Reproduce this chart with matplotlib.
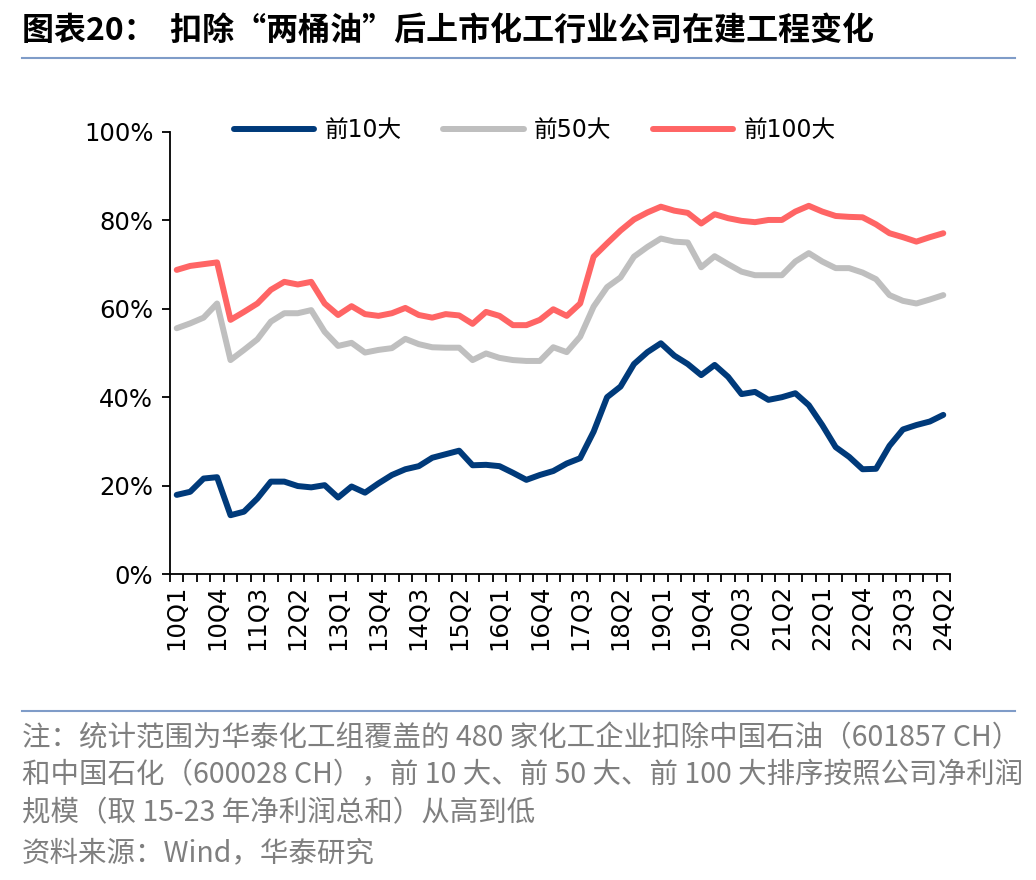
import matplotlib
matplotlib.use("Agg")
import matplotlib.pyplot as plt
from matplotlib.lines import Line2D
from matplotlib.ticker import FuncFormatter, FixedLocator
import numpy as np

# ---- data ----
quarters = [f"{y:02d}Q{q}" for y in range(10, 25) for q in range(1, 5)][:58]

top10 = [17.9, 18.6, 21.6, 21.9, 13.3, 14.1, 17.1, 20.9, 20.9, 19.9, 19.6, 20.1,
         17.3, 19.8, 18.4, 20.5, 22.4, 23.7, 24.4, 26.3, 27.1, 27.9, 24.6, 24.7,
         24.4, 22.9, 21.3, 22.4, 23.3, 25.0, 26.2, 32.2, 40.0, 42.4, 47.5, 50.2,
         52.2, 49.4, 47.5, 45.0, 47.3, 44.6, 40.7, 41.2, 39.4, 40.0, 40.9, 38.2,
         33.7, 28.7, 26.5, 23.7, 23.8, 29.0, 32.7, 33.7, 34.5, 36.0]

top50 = [55.6, 56.7, 58.0, 61.2, 48.4, 50.7, 53.1, 57.1, 59.0, 59.0, 59.7, 54.8,
         51.6, 52.3, 50.1, 50.7, 51.1, 53.2, 52.0, 51.3, 51.2, 51.2, 48.4, 49.9,
         48.9, 48.4, 48.2, 48.2, 51.3, 50.2, 53.7, 60.5, 64.9, 67.1, 71.8, 74.0,
         75.9, 75.2, 75.0, 69.4, 71.9, 70.1, 68.4, 67.6, 67.6, 67.6, 70.7, 72.6,
         70.7, 69.2, 69.2, 68.2, 66.7, 63.1, 61.8, 61.2, 62.1, 63.1]

top100 = [68.8, 69.7, 70.1, 70.5, 57.5, 59.3, 61.2, 64.3, 66.1, 65.5, 66.1, 61.2,
          58.6, 60.6, 58.8, 58.4, 59.0, 60.2, 58.6, 58.0, 58.8, 58.5, 56.6, 59.3,
          58.4, 56.3, 56.3, 57.5, 59.9, 58.4, 61.2, 71.8, 74.8, 77.7, 80.2, 81.8,
          83.1, 82.2, 81.7, 79.3, 81.4, 80.5, 79.9, 79.6, 80.1, 80.1, 82.0, 83.3,
          82.0, 81.0, 80.8, 80.7, 79.1, 77.1, 76.2, 75.2, 76.2, 77.1]

series_names = ["前10大", "前50大", "前100大"]
series_colors = ["#003A7A", "#BFBFBF", "#FF6565"]

title = "图表20：  扣除“两桶油”后上市化工行业公司在建工程变化"
notes = [
    "注：统计范围为华泰化工组覆盖的 480 家化工企业扣除中国石油（601857 CH）",
    "和中国石化（600028 CH），前 10 大、前 50 大、前 100 大排序按照公司净利润",
    "规模（取 15-23 年净利润总和）从高到低",
    "资料来源：Wind，华泰研究",
]

W, H = 1036, 880
fig = plt.figure(figsize=(W / 100, H / 100), dpi=100)
fig.patch.set_facecolor("white")

latin = ["DejaVu Sans", "Noto Sans CJK SC"]
cjk = ["Noto Sans CJK SC", "DejaVu Sans"]

ax = fig.add_axes([170 / W, 1 - 574 / H, (950 - 170) / W, (574 - 132) / H])
x = np.arange(len(quarters))
for vals, name, col in zip([top10, top50, top100], series_names, series_colors):
    ax.plot(x, vals, color=col, lw=4.3, label=name, solid_capstyle="round",
            solid_joinstyle="round")

ax.set_xlim(-0.5, len(quarters) - 0.5)
ax.set_ylim(0, 100)
ax.set_yticks(np.arange(0, 101, 20))
ax.yaxis.set_major_formatter(FuncFormatter(lambda v, p: f"{int(v)}%"))
ax.set_xticks(x[::3])
ax.set_xticklabels(quarters[::3], rotation=90)
ax.xaxis.set_minor_locator(FixedLocator(np.arange(-0.5, len(quarters), 1.0)))
ax.tick_params(axis="x", which="major", length=0, pad=8)
ax.tick_params(axis="x", which="minor", length=6, width=1.3, color="black")
ax.tick_params(axis="y", which="major", length=6, width=1.3, pad=6)
for lab in ax.get_xticklabels() + ax.get_yticklabels():
    lab.set_family(latin)
    lab.set_fontsize(17.5)
for s in ["top", "right"]:
    ax.spines[s].set_visible(False)
for s in ["left", "bottom"]:
    ax.spines[s].set_linewidth(1.3)

leg = ax.legend(loc="center", bbox_to_anchor=(535 / W, 1 - 130 / H),
                bbox_transform=fig.transFigure, ncol=3, frameon=False,
                handlelength=3.4, handletextpad=0.45, columnspacing=1.75,
                prop={"family": latin, "size": 17})

# title and rules
fig.text(22 / W, 1 - 31 / H, title, fontsize=23, fontweight="bold",
         family=cjk, va="center", ha="left", color="black")
fig.add_artist(Line2D([22 / W, 1015 / W], [1 - 58 / H] * 2, color="#7F9CC8",
                      lw=1.5, transform=fig.transFigure))
fig.add_artist(Line2D([22 / W, 1015 / W], [1 - 711 / H] * 2, color="#7F9CC8",
                      lw=1.5, transform=fig.transFigure))

for yy, t in zip([738, 775, 813, 853], notes):
    fig.text(22 / W, 1 - yy / H, t, fontsize=20.5, family=cjk, color="#7F7F7F",
             va="center", ha="left")

fig.savefig("out.png", dpi=100, facecolor="white")
